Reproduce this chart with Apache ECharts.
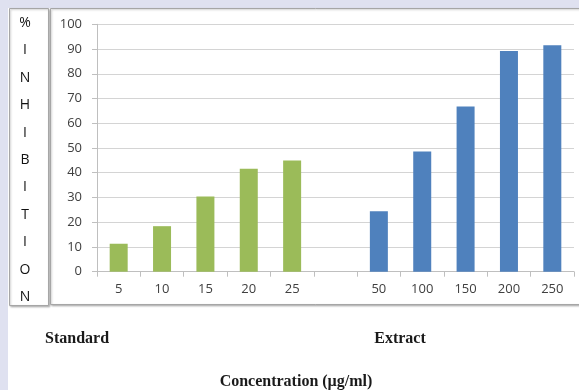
<!DOCTYPE html>
<html>
<head>
<meta charset="utf-8">
<script src="https://cdn.jsdelivr.net/npm/echarts@6/dist/echarts.min.js"></script>
<style>
  html, body { margin: 0; padding: 0; background: #ffffff; }
  #chart { width: 579px; height: 390px; }
</style>
</head>
<body>
<div id="chart"></div>
<script>
// Concentrations on the x axis (blank slot separates the two groups)
const categories = ['5', '10', '15', '20', '25', '', '50', '100', '150', '200', '250'];
// % inhibition of the standard (5–25 µg/ml)
const standardValues = [11.3, 18.4, 30.4, 41.6, 44.9];
// % inhibition of the extract (50–250 µg/ml)
const extractValues = [24.4, 48.6, 66.8, 89.2, 91.5];
// Y axis tick range
const yMin = 0, yMax = 100, yStep = 10;
// Vertical axis caption, one letter per row
const yCaption = ['%', 'I', 'N', 'H', 'I', 'B', 'I', 'T', 'I', 'O', 'N'];

const standardData = categories.map((c, i) => i < standardValues.length ? standardValues[i] : '-');
const extractData = categories.map((c, i) => {
  const k = i - (categories.length - extractValues.length);
  return k >= 0 ? extractValues[k] : '-';
});

const chart = echarts.init(document.getElementById('chart'), null, { renderer: 'canvas' });

const graphics = [
  // lavender frame on top and left
  { type: 'rect', z: -10, shape: { x: 0, y: 0, width: 579, height: 8 }, style: { fill: '#dfe1f0' } },
  { type: 'rect', z: -10, shape: { x: 0, y: 0, width: 8, height: 390 }, style: { fill: '#dfe1f0' } },
  // caption box on the left
  { type: 'rect', z: -5, shape: { x: 9.5, y: 8.5, width: 39, height: 297 },
    style: { fill: '#ffffff', stroke: '#a6a6a6', lineWidth: 1, shadowColor: 'rgba(0,0,0,0.25)', shadowBlur: 2, shadowOffsetX: 1, shadowOffsetY: 1 } },
  // chart box
  { type: 'rect', z: -5, shape: { x: 50.5, y: 8.5, width: 540, height: 296 },
    style: { fill: '#ffffff', stroke: '#a6a6a6', lineWidth: 1, shadowColor: 'rgba(0,0,0,0.25)', shadowBlur: 2, shadowOffsetX: 1, shadowOffsetY: 1 } }
];

yCaption.forEach((ch, i) => {
  graphics.push({
    type: 'text', z: 5, x: 25, y: 23 + i * 27.4,
    style: { text: ch, fill: '#111111', font: '14px "Open Sans", sans-serif', align: 'center', verticalAlign: 'middle' }
  });
});

const serif = 'bold 16px "Liberation Serif", serif';
graphics.push(
  { type: 'text', x: 45, y: 339, style: { text: 'Standard', fill: '#1a1a1a', font: serif, align: 'left', verticalAlign: 'middle' } },
  { type: 'text', x: 400, y: 339, style: { text: 'Extract', fill: '#1a1a1a', font: serif, align: 'center', verticalAlign: 'middle' } },
  { type: 'text', x: 296, y: 382, style: { text: 'Concentration (µg/ml)', fill: '#1a1a1a', font: serif, align: 'center', verticalAlign: 'middle' } }
);

chart.setOption({
  animation: false,
  backgroundColor: 'transparent',
  graphic: graphics,
  grid: { left: 97, right: 5, top: 24.3, bottom: 118.3, containLabel: false },
  xAxis: {
    type: 'category',
    data: categories,
    boundaryGap: true,
    axisLine: { show: true, lineStyle: { color: '#bfbfbf', width: 1 } },
    axisTick: { show: true, length: 5, lineStyle: { color: '#bfbfbf' }, alignWithLabel: false },
    axisLabel: { color: '#404040', fontSize: 13, fontFamily: '"Open Sans", sans-serif', margin: 11 },
    splitLine: { show: false }
  },
  yAxis: {
    type: 'value',
    min: yMin, max: yMax, interval: yStep,
    axisLine: { show: true, lineStyle: { color: '#bfbfbf', width: 1 } },
    axisTick: { show: true, length: 5, lineStyle: { color: '#bfbfbf' } },
    axisLabel: { color: '#404040', fontSize: 13, fontFamily: '"Open Sans", sans-serif', margin: 15 },
    splitLine: { show: true, lineStyle: { color: '#d4d4d4', width: 1 } }
  },
  series: [
    {
      name: 'Standard', type: 'bar', data: standardData, barWidth: 18, barGap: '-100%',
      itemStyle: { color: '#9bbb59' }
    },
    {
      name: 'Extract', type: 'bar', data: extractData, barWidth: 18, barGap: '-100%',
      itemStyle: { color: '#4f81bd' }
    }
  ]
});
</script>
</body>
</html>
